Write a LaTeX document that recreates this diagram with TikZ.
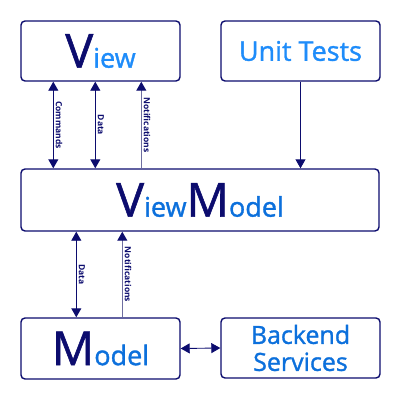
\documentclass[tikz,border=0pt]{standalone}
\usepackage{fontspec}
\setmainfont{Open Sans}
\newfontfamily\boxfont[FakeBold=1.2]{Open Sans}
\usetikzlibrary{arrows.meta}
\definecolor{navy}{RGB}{12,12,110}
\definecolor{lblue}{RGB}{30,140,250}
\definecolor{mblue}{RGB}{12,112,220}
\definecolor{notif}{RGB}{110,110,160}
\tikzset{
  box/.style={draw=navy, line width=1.4pt, rounded corners=4pt, fill=white, inner sep=0pt, font=\boxfont},
  conn/.style={draw=navy, line width=0.9pt, {Triangle[width=10pt,length=9pt]}-{Triangle[width=10pt,length=9pt]}},
  nconn/.style={draw=notif, line width=1pt, -{Triangle[width=10pt,length=9pt,color=navy]}},
  tconn/.style={draw=navy, line width=0.9pt, -{Triangle[width=10pt,length=9pt]}},
  lbl/.style={rotate=-90, anchor=south, inner sep=2pt, text=navy, font=\fontsize{8.5}{9}\selectfont\bfseries}
}
\newcommand{\bigL}[1]{{\fontsize{47}{47}\selectfont\color{navy}#1}}
\newcommand{\smL}[2]{{\fontsize{27}{27}\selectfont\color{#1}#2}}
\begin{document}
\begin{tikzpicture}[x=1pt,y=-1pt]
\useasboundingbox (0,0) rectangle (400,400);
\node[box, minimum width=159pt, minimum height=60pt] (view) at (100.5,51) {\bigL{V}\smL{lblue}{iew}};
\node[box, minimum width=159pt, minimum height=60pt] (tests) at (300.5,51) {\fontsize{27}{27}\selectfont\color{lblue}Unit Tests};
\node[box, minimum width=358pt, minimum height=62pt] (vm) at (200,200) {\bigL{V}\smL{mblue}{iew}\bigL{M}\smL{mblue}{odel}};
\node[box, minimum width=159pt, minimum height=61pt] (model) at (100.5,348.5) {\bigL{M}\smL{mblue}{odel}};
\node[box, minimum width=159pt, minimum height=60pt, align=center, font=\boxfont\fontsize{25}{27}\selectfont, text=mblue] (backend) at (300.5,348) {Backend\\Services};

\draw[conn] ([xshift=33pt]view.south west) -- node[lbl]{Commands} ([xshift=33pt]vm.north west);
\draw[conn] ([xshift=75pt]view.south west) -- node[lbl]{Data} ([xshift=75pt]vm.north west);
\draw[nconn] ([xshift=121pt]vm.north west) -- node[lbl]{Notifications} ([xshift=121pt]view.south west);
\draw[tconn] (tests.south) -- (tests.south |- vm.north);

\draw[conn] ([xshift=56pt]vm.south west) -- node[lbl]{Data} ([xshift=56pt]model.north west);
\draw[nconn] ([xshift=102pt]model.north west) -- node[lbl]{Notifications} ([xshift=102pt]vm.south west);

\draw[conn] (model.east) -- (backend.west);
\end{tikzpicture}
\end{document}
